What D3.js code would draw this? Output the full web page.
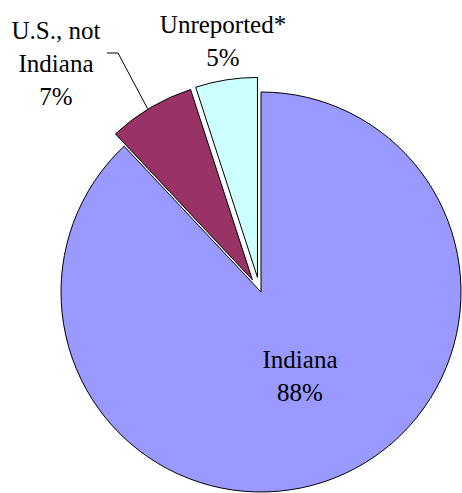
<!DOCTYPE html>
<html>
<head>
<meta charset="utf-8">
<script src="https://cdn.jsdelivr.net/npm/d3@7"></script>
<style>
  body { margin: 0; background: #fff; }
</style>
</head>
<body>
<div id="app"></div>
<script>
const categories = ["Indiana", "U.S., not Indiana", "Unreported*"];
const values = [88, 7, 5];
const labelLines = [["Indiana", "88%"], ["U.S., not", "Indiana", "7%"], ["Unreported*", "5%"]];
const colors = ["#9999FF", "#993366", "#CCFFFF"];
const exploded = [false, true, true];

const width = 462, height = 493;
const cx = 261, cy = 292, radius = 200, explode = 15;

const svg = d3.select("#app")
    .append("svg")
    .attr("width", width)
    .attr("height", height)
    .attr("font-family", "Times New Roman");

const g = svg.append("g").attr("transform", `translate(${cx},${cy})`);

const pie = d3.pie().sort(null).value(d => d.value);
const arc = d3.arc().innerRadius(0).outerRadius(radius);

const data = pie(categories.map((c, i) => ({ name: c, value: values[i], i })));

// explode direction leans slightly back toward the big slice, like the original
const offset = d => {
    if (!exploded[d.data.i]) return [0, 0];
    const a = (d.startAngle + d.endAngle) / 2 - 0.08;
    return [Math.sin(a) * explode, -Math.cos(a) * explode];
};

g.selectAll("path.slice")
    .data(data)
    .enter()
    .append("path")
    .attr("class", "slice")
    .attr("transform", d => `translate(${offset(d)})`)
    .attr("d", arc)
    .attr("fill", d => colors[d.data.i])
    .attr("stroke", "#000")
    .attr("stroke-width", 1);

// leader line for U.S., not Indiana
const us = data[1];
const mid = (us.startAngle + us.endAngle) / 2;
const [ox, oy] = offset(us);
const ex = ox + Math.sin(mid) * radius, ey = oy - Math.cos(mid) * radius;
g.append("polyline")
    .attr("points", `${-154},${-239} ${-143},${-239} ${ex - 3},${ey + 1}`)
    .attr("fill", "none")
    .attr("stroke", "#000")
    .attr("stroke-width", 1);

// labels: centre of each block relative to pie centre, one <text> per line
const fontSize = 25, lineH = 33;
const labelPos = [[39, 84], [-205, -229], [-38, -251]];

data.forEach(d => {
    const i = d.data.i;
    const lines = labelLines[i];
    const [lx, ly] = labelPos[i];
    const top = cy + ly - (lines.length - 1) * lineH / 2 + fontSize * 0.35;
    lines.forEach((s, k) => {
        svg.append("text")
            .attr("x", cx + lx)
            .attr("y", top + k * lineH)
            .attr("text-anchor", "middle")
            .attr("font-family", "Times New Roman")
            .attr("font-size", fontSize)
            .text(s);
    });
});
</script>
</body>
</html>
